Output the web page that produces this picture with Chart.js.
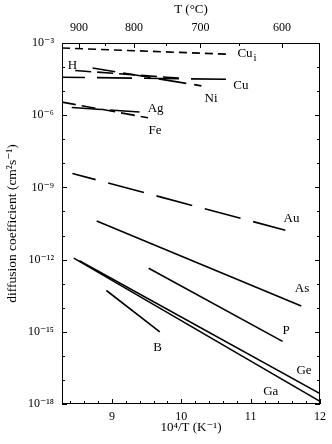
<!DOCTYPE html>
<html>
<head>
<meta charset="utf-8">
<script src="https://cdn.jsdelivr.net/npm/chart.js@4/dist/chart.umd.min.js"></script>
<style>
  html, body { margin: 0; padding: 0; background: #fff; }
</style>
</head>
<body>
<canvas id="diff_chart" width="332" height="444"></canvas>
<script>
// species and the end points of each line (10^4/T in K^-1, D in cm^2/s)
var species   = ['Cu_i', 'H', 'Cu', 'Ni', 'Ag', 'Fe', 'Au', 'As', 'P', 'B', 'Ge', 'Ga'];
var invTStart = [8.28, 8.47, 8.28, 8.72, 8.42, 8.28, 8.43, 8.78, 9.53, 8.92, 8.53, 8.45];
var invTEnd   = [10.70, 10.0, 10.67, 10.29, 9.45, 9.52, 11.50, 11.73, 11.46, 9.69, 12.0, 12.0];
var dStart    = [6.2e-4, 7.2e-5, 3.8e-5, 9.1e-5, 2.1e-6, 3.5e-6, 3.8e-9, 4.0e-11, 4.4e-13, 5.2e-14, 8.9e-13, 1.15e-12];
var dEnd      = [3.4e-4, 3.4e-5, 3.1e-5, 1.66e-5, 1.33e-6, 7.8e-7, 1.66e-11, 1.17e-14, 4.0e-16, 1.0e-15, 2.7e-18, 1.29e-18];

// where the names sit
var labelInvT = [10.91, 8.43, 10.86, 10.43, 9.63, 9.62, 11.59, 11.74, 11.51, 9.66, 11.77, 11.29];
var labelD    = [3.7e-4, 1.17e-4, 1.74e-5, 5.0e-6, 1.9e-6, 2.3e-7, 5.0e-11, 6.0e-14, 1.17e-15, 2.3e-16, 2.5e-17, 3.4e-18];

// axis ticks
var bottomTicks = [9, 10, 11, 12];
var topTicksC   = [900, 800, 700, 600];
var topMinorC   = [850, 750, 650];
var yExponents  = [-3, -6, -9, -12, -15, -18];

// line styles
var dashes = [[8, 5], [16, 6], [35, 12], [28, 8], [30, 8], [14, 6], [37, 13], [], [], [], [], []];
var dashOffsets = [0, 0, 12, 5, 0, 0, 13, 0, 0, 0, 0, 0];

Chart.defaults.font.family = "'Liberation Serif', 'DejaVu Serif', serif";
Chart.defaults.font.size = 12;
Chart.defaults.color = '#000';

var sup = { '-': '\u207B', '0': '\u2070', '1': '\u00B9', '2': '\u00B2', '3': '\u00B3', '4': '\u2074',
            '5': '\u2075', '6': '\u2076', '7': '\u2077', '8': '\u2078', '9': '\u2079' };
function toSup(n) {
    return String(n).split('').map(function(c) { return sup[c]; }).join('');
}
function toInvT(c) { return 1e4 / (c + 273.15); }

var datasets = species.map(function(name, i) {
    return {
        label: name,
        data: [{ x: invTStart[i], y: dStart[i] }, { x: invTEnd[i], y: dEnd[i] }],
        showLine: true,
        fill: false,
        borderColor: '#000',
        borderWidth: 1.6,
        borderDash: dashes[i],
        borderDashOffset: dashOffsets[i],
        pointRadius: 0,
        pointHoverRadius: 0
    };
});

// frame, inward ticks and the species names
var framePlugin = {
    id: 'frame',
    afterDatasetsDraw: function(chart) {
        var ctx = chart.ctx;
        var a = chart.chartArea;
        var xs = chart.scales.x, ys = chart.scales.y;
        ctx.save();
        ctx.strokeStyle = '#000';
        ctx.lineWidth = 1;
        ctx.strokeRect(a.left + 0.5, a.top + 0.5, a.right - a.left - 1, a.bottom - a.top - 1);

        ctx.beginPath();
        // bottom ticks every 0.2
        for (var k = 42; k <= 60; k++) {
            var v = k / 5;
            var px = Math.round(xs.getPixelForValue(v)) + 0.5;
            var len = (k % 5 === 0) ? 5 : 3;
            ctx.moveTo(px, a.bottom); ctx.lineTo(px, a.bottom - len);
        }
        // top ticks in deg C
        topTicksC.forEach(function(c) {
            var px = Math.round(xs.getPixelForValue(toInvT(c))) + 0.5;
            ctx.moveTo(px, a.top); ctx.lineTo(px, a.top + 5);
        });
        topMinorC.forEach(function(c) {
            var px = Math.round(xs.getPixelForValue(toInvT(c))) + 0.5;
            ctx.moveTo(px, a.top); ctx.lineTo(px, a.top + 3);
        });
        // decade ticks, both sides
        for (var e = -18; e <= -3; e++) {
            var py = Math.round(ys.getPixelForValue(Math.pow(10, e))) + 0.5;
            var l = (e % 3 === 0) ? 5 : 3;
            ctx.moveTo(a.left, py); ctx.lineTo(a.left + l, py);
            ctx.moveTo(a.right, py); ctx.lineTo(a.right - l, py);
        }
        ctx.stroke();

        ctx.fillStyle = '#000';
        ctx.font = "13px 'Liberation Serif', 'DejaVu Serif', serif";
        ctx.textAlign = 'center';
        ctx.textBaseline = 'middle';
        species.forEach(function(name, i) {
            var px = xs.getPixelForValue(labelInvT[i]);
            var py = ys.getPixelForValue(labelD[i]);
            if (name === 'Cu_i') {
                ctx.textAlign = 'left';
                ctx.fillText('Cu', px - 7, py);
                var w = ctx.measureText('Cu').width;
                ctx.font = "11px 'Liberation Serif', 'DejaVu Serif', serif";
                ctx.fillText('i', px - 7 + w + 1, py + 5);
                ctx.font = "13px 'Liberation Serif', 'DejaVu Serif', serif";
                ctx.textAlign = 'center';
            } else {
                ctx.fillText(name, px, py);
            }
        });
        ctx.restore();
    }
};

new Chart(document.getElementById('diff_chart'), {
    type: 'scatter',
    data: { datasets: datasets },
    options: {
        responsive: false,
        animation: false,
        layout: { padding: { left: 0, right: 6, top: 0, bottom: 0 } },
        plugins: {
            legend: { display: false },
            tooltip: { enabled: false }
        },
        scales: {
            x: {
                type: 'linear',
                position: 'bottom',
                min: 8.28,
                max: 12,
                grid: { display: false, drawTicks: false },
                border: { display: false },
                afterBuildTicks: function(s) { s.ticks = bottomTicks.map(function(v) { return { value: v }; }); },
                afterFit: function(s) { s.height = 40; },
                ticks: { padding: 6, autoSkip: false, maxRotation: 0 },
                title: { display: true, text: '10\u2074/T (K\u207B\u00B9)', font: { size: 13 }, padding: { top: 0, bottom: 9 } }
            },
            x2: {
                type: 'linear',
                position: 'top',
                min: 8.28,
                max: 12,
                grid: { display: false, drawTicks: false },
                border: { display: false },
                afterBuildTicks: function(s) { s.ticks = topTicksC.map(function(c) { return { value: toInvT(c) }; }); },
                afterFit: function(s) { s.height = 43; },
                ticks: {
                    padding: 8, autoSkip: false, maxRotation: 0,
                    callback: function(v) { return String(Math.round(1e4 / v - 273.15)); }
                },
                title: { display: true, text: 'T (\u00B0C)', font: { size: 13 }, padding: { top: 2, bottom: 0 } }
            },
            y: {
                type: 'logarithmic',
                min: 1e-18,
                max: 1e-3,
                grid: { display: false, drawTicks: false },
                border: { display: false },
                afterBuildTicks: function(s) { s.ticks = yExponents.map(function(e) { return { value: Math.pow(10, e) }; }); },
                afterFit: function(s) { s.width = 62; },
                ticks: {
                    padding: 8, autoSkip: false,
                    callback: function(v) { return '10' + toSup(Math.round(Math.log10(v))); }
                },
                title: { display: true, text: 'diffusion coefficient (cm\u00B2s\u207B\u00B9)', font: { size: 13.5 }, padding: { top: 4, bottom: 0 } }
            }
        }
    },
    plugins: [framePlugin]
});
</script>
</body>
</html>
